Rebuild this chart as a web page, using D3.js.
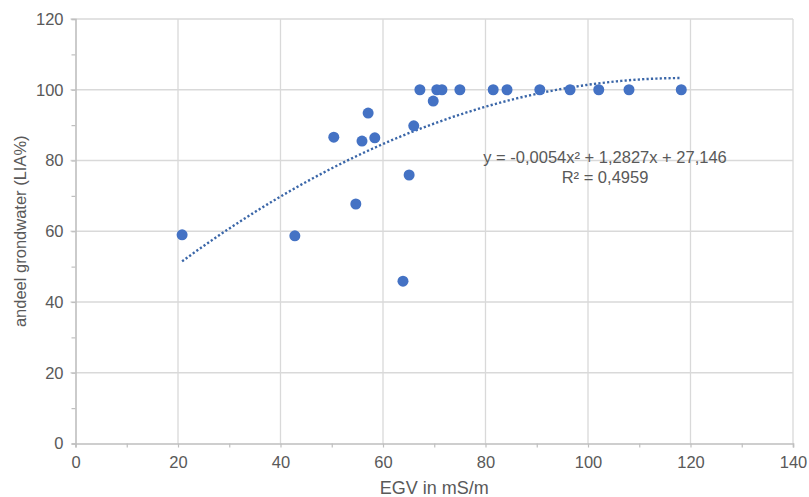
<!DOCTYPE html>
<html>
<head>
<meta charset="utf-8">
<script src="https://cdn.jsdelivr.net/npm/d3@7"></script>
<style>
  body { margin: 0; background: #fff; }
  text { font-family: "Liberation Sans", Arial, sans-serif; fill: #595959; }
</style>
</head>
<body>
<div id="chart"></div>
<script>
// EGV (mS/m) per sample
const egv = [20.8, 42.8, 50.4, 54.7, 55.9, 57.1, 58.4, 63.9, 65.1, 66.0, 67.2,
             69.8, 70.5, 71.5, 75.0, 81.5, 84.2, 90.6, 96.5, 102.1, 108.0, 118.2];
// share of groundwater (LIA%)
const grondwater = [59, 58.7, 86.6, 67.7, 85.5, 93.4, 86.4, 45.9, 75.9, 89.8, 100,
                    96.8, 100, 100, 100, 100, 100, 100, 100, 100, 100, 100];
// trendline coefficients (a x^2 + b x + c) and labels
const trendCoef = [-0.0054, 1.2827, 27.146];
const trendLabels = ["y = -0,0054x² + 1,2827x + 27,146", "R² = 0,4959"];
const xTicks = [0, 20, 40, 60, 80, 100, 120, 140];
const yTicks = [0, 20, 40, 60, 80, 100, 120];

const width = 809, height = 497;
const margin = {left: 75.5, right: 16, top: 19, bottom: 53.5};

const svg = d3.select("#chart").append("svg")
    .attr("width", width).attr("height", height);

const x = d3.scaleLinear().domain([0, 140]).range([margin.left, width - margin.right]);
const y = d3.scaleLinear().domain([0, 120]).range([height - margin.bottom, margin.top]);

// gridlines
const grid = svg.append("g");
grid.selectAll(".vg").data(xTicks.slice(1)).enter().append("line")
    .attr("x1", d => x(d)).attr("x2", d => x(d))
    .attr("y1", y(0)).attr("y2", y(120))
    .style("stroke", "#d9d9d9").style("stroke-width", 1.3);
grid.selectAll(".hg").data(yTicks.slice(1)).enter().append("line")
    .attr("x1", x(0) - 5).attr("x2", x(140))
    .attr("y1", d => y(d)).attr("y2", d => y(d))
    .style("stroke", "#d9d9d9").style("stroke-width", 1.3);

// axes
const xAxis = svg.append("g")
    .attr("transform", "translate(0," + y(0) + ")")
    .call(d3.axisBottom(x).tickValues(d3.range(0, 141, 10)).tickSize(4)
        .tickFormat(d => d % 20 == 0 ? d : ""));
const yAxis = svg.append("g")
    .attr("transform", "translate(" + x(0) + ",0)")
    .call(d3.axisLeft(y).tickValues(d3.range(0, 121, 10)).tickSize(4)
        .tickFormat(d => d % 20 == 0 ? d : ""));
[xAxis, yAxis].forEach(a => {
    a.select(".domain").style("stroke", "#bfbfbf").style("stroke-width", 1.6);
    a.selectAll(".tick line").style("stroke", "#bfbfbf").style("stroke-width", 1.2);
    a.selectAll(".tick text").style("font-size", "16.5px").style("fill", "#595959")
        .style("font-family", "Liberation Sans, Arial, sans-serif");
});
xAxis.selectAll(".tick text").attr("dy", "0.71em").attr("y", 13);
yAxis.selectAll(".tick text").attr("x", -12);

// trendline
const xmin = d3.min(egv), xmax = d3.max(egv);
const trendX = d3.range(0, 101).map(i => xmin + (xmax - xmin) * i / 100);
const line = d3.line()
    .x(d => x(d))
    .y(d => y(trendCoef[0] * d * d + trendCoef[1] * d + trendCoef[2]));
svg.append("path")
    .datum(trendX)
    .attr("d", line)
    .style("fill", "none")
    .style("stroke", "#3a66a8")
    .style("stroke-width", 2.4)
    .style("stroke-dasharray", "2.2,2.2");

// points
svg.append("g").selectAll("circle")
    .data(egv.map((d, i) => [d, grondwater[i]]))
    .enter().append("circle")
    .attr("cx", d => x(d[0])).attr("cy", d => y(d[1]))
    .attr("r", 5.5)
    .style("fill", "#4472c4");

// equation label
svg.append("g").selectAll("text")
    .data(trendLabels).enter().append("text")
    .attr("x", 605).attr("y", (d, i) => 163 + i * 19.5)
    .attr("text-anchor", "middle")
    .style("font-size", "16.5px")
    .text(d => d);

// axis titles
svg.append("text")
    .attr("x", (x(0) + x(140)) / 2).attr("y", 494)
    .attr("text-anchor", "middle")
    .style("font-size", "18px")
    .text("EGV in mS/m");
svg.append("text")
    .attr("transform", "translate(26," + (y(0) + y(120)) / 2 + ") rotate(-90)")
    .attr("text-anchor", "middle")
    .style("font-size", "16.5px")
    .text("andeel grondwater (LIA%)");
</script>
</body>
</html>
